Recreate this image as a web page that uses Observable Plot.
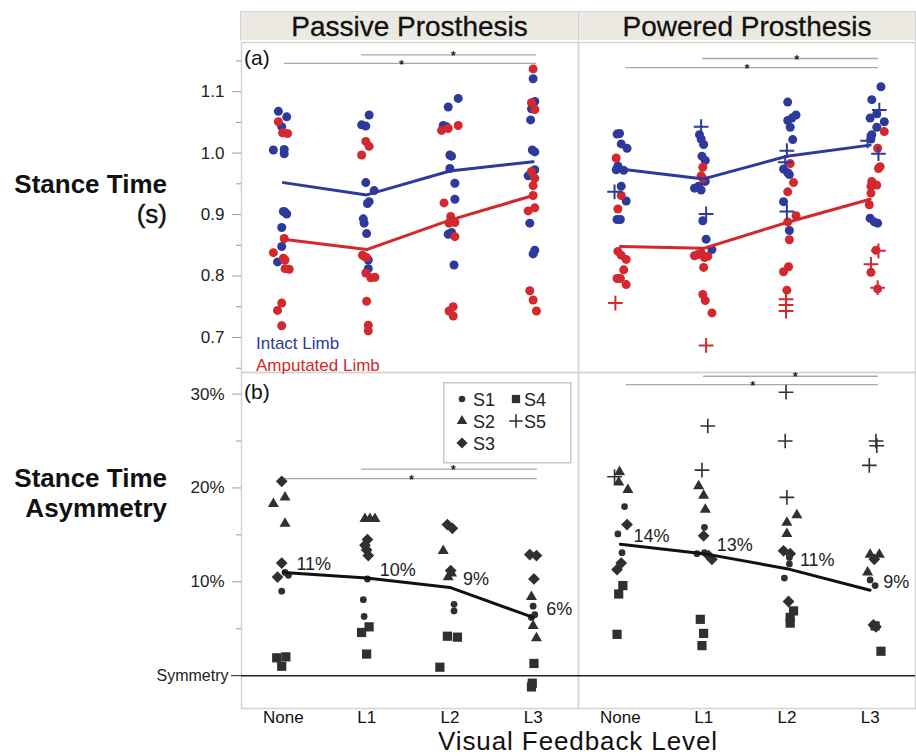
<!DOCTYPE html>
<html><head><meta charset="utf-8">
<script src="https://cdn.jsdelivr.net/npm/d3@7"></script>
<script src="https://cdn.jsdelivr.net/npm/@observablehq/plot@0.6"></script>
<style>
body{margin:0;background:#fff;}
#chart{position:relative;width:916px;height:756px;font-family:"Liberation Sans",Arial,Helvetica,sans-serif;color:#111;overflow:hidden;background:#fff;}
.abs{position:absolute;line-height:1;white-space:nowrap;}
.hdr{position:absolute;top:0;width:338px;height:29px;line-height:29px;text-align:center;font-size:28px;border-left:1.5px solid #d0d0d0;box-sizing:border-box;-webkit-text-stroke:0.3px #111;}
</style></head><body>
<div id="chart">
  <div id="topPlot" class="abs" style="left:0;top:0;"></div>
  <div id="bottomPlot" class="abs" style="left:0;top:372px;"></div>
  <div class="abs" style="left:240px;top:11px;width:676px;height:29px;background:#ebe9e2;border-top:1px solid #d6d4cc;box-sizing:border-box;">
    <div class="hdr" style="left:0;">Passive Prosthesis</div>
    <div class="hdr" style="left:338px;border-right:1.5px solid #d0d0d0;">Powered Prosthesis</div>
  </div>
  <div class="abs" style="left:0;top:169px;width:167px;text-align:right;font-size:26px;font-weight:bold;line-height:30px;">Stance Time<br><span style="font-weight:normal;-webkit-text-stroke:0.4px #111;">(s)</span></div>
  <div class="abs" style="left:0;top:463px;width:167px;text-align:right;font-size:26px;font-weight:bold;line-height:30px;">Stance Time<br>Asymmetry</div>
  <div class="abs" style="left:244px;top:47px;font-size:21px;color:#111;">(a)</div>
  <div class="abs" style="left:244px;top:381px;font-size:21px;color:#111;">(b)</div>
  <div class="abs" style="left:256px;top:335px;font-size:17px;color:#2d3a9c;">Intact Limb</div>
  <div class="abs" style="left:256px;top:357px;font-size:17px;color:#d2282e;">Amputated Limb</div>
  <div id="legend" class="abs" style="left:443px;top:382px;"></div>
  <div class="abs" style="left:240px;top:728px;width:676px;height:26px;line-height:26px;text-align:center;font-size:26px;letter-spacing:0.9px;color:#111;">Visual Feedback Level</div>
</div>
<script>
// ---------- categories ----------
const levels = ["None", "L1", "L2", "L3"];
const prostheses = ["Passive Prosthesis", "Powered Prosthesis"];
const limbs = ["Intact", "Amputated"];
const subjects = ["S1", "S2", "S3", "S4", "S5"];

// ---------- (a) stance time points: [levelIndex, jitter, seconds] ----------
const passiveIntact = [
  [0,-0.06,1.068],[0,0.04,1.059],[0,-0.02,1.043],[0,-0.12,1.005],[0,0.01,1.006],[0,0.01,0.999],[0,0.0,0.905],[0,0.04,0.901],[0,0.02,0.904],[0,-0.02,0.879],[0,-0.02,0.848],[0,-0.07,0.823],
  [1,0.03,1.062],[1,-0.06,1.046],[1,-0.01,1.044],[1,-0.01,0.952],[1,0.09,0.939],[1,0.03,0.921],[1,0.01,0.918],[1,-0.04,0.893],[1,-0.03,0.886],[1,0.0,0.869],[1,0.02,0.826],[1,0.02,0.812],
  [2,0.10,1.089],[2,-0.02,1.075],[2,-0.08,1.045],[2,-0.04,1.043],[2,0.0,0.997],[2,0.02,0.995],[2,0.0,0.975],[2,0.06,0.951],[2,0.06,0.925],[2,-0.02,0.868],[2,0.02,0.871],[2,0.05,0.818],
  [3,0.0,1.121],[3,0.02,1.084],[3,-0.02,1.072],[3,-0.03,1.054],[3,-0.01,1.005],[3,0.02,1.002],[3,0.02,0.973],[3,-0.06,0.963],[3,-0.04,0.886],[3,0.02,0.842],[3,0.0,0.836]
];
const passiveAmputated = [
  [0,-0.06,1.051],[0,-0.01,1.033],[0,0.05,1.032],[0,0.01,0.861],[0,-0.12,0.838],[0,0.0,0.829],[0,0.02,0.826],[0,0.02,0.812],[0,0.07,0.811],[0,-0.02,0.756],[0,-0.07,0.744],[0,-0.02,0.719],
  [1,-0.01,1.019],[1,0.03,1.011],[1,-0.06,0.997],[1,-0.05,0.834],[1,0.0,0.830],[1,-0.03,0.832],[1,-0.01,0.805],[1,0.05,0.797],[1,0.10,0.798],[1,0.0,0.759],[1,0.02,0.720],[1,0.02,0.711],
  [2,-0.10,1.037],[2,-0.02,1.040],[2,0.10,1.045],[2,-0.07,0.919],[2,0.01,0.897],[2,0.0,0.888],[2,0.06,0.887],[2,-0.01,0.886],[2,0.06,0.864],[2,0.04,0.750],[2,-0.01,0.743],[2,0.04,0.735],
  [3,0.0,1.137],[3,-0.02,1.082],[3,0.02,1.071],[3,-0.02,0.970],[3,0.02,0.959],[3,0.0,0.947],[3,0.0,0.931],[3,-0.06,0.906],[3,0.02,0.911],[3,-0.04,0.776],[3,0.0,0.761],[3,0.04,0.743]
];
const poweredIntact = [
  [0,-0.04,1.031],[0,-0.01,1.032],[0,0.01,1.015],[0,0.08,1.008],[0,-0.03,0.979],[0,-0.05,0.973],[0,0.04,0.972],[0,0.01,0.946],[0,0.07,0.922],[0,-0.04,0.892],[0,0.0,0.892],
  [1,-0.05,1.030],[1,-0.03,1.023],[1,0.0,1.014],[1,-0.02,0.995],[1,0.02,0.988],[1,0.02,0.954],[1,-0.11,0.943],[1,-0.06,0.946],[1,-0.03,0.940],[1,-0.01,0.890],[1,0.03,0.860],[1,0.10,0.843],
  [2,0.01,1.083],[2,0.11,1.062],[2,0.06,1.057],[2,0.01,1.053],[2,0.04,1.042],[2,0.07,1.022],[2,-0.04,0.974],[2,0.01,0.968],[2,0.03,0.965],[2,-0.04,0.921],[2,0.03,0.874],
  [3,0.13,1.108],[3,0.02,1.087],[3,0.08,1.064],[3,0.0,1.057],[3,0.17,1.051],[3,0.08,1.042],[3,0.02,1.030],[3,0.01,1.023],[3,0.0,0.894],[3,0.05,0.888],[3,0.09,0.886]
];
const poweredAmputated = [
  [0,-0.05,0.992],[0,0.01,0.931],[0,-0.03,0.909],[0,-0.03,0.840],[0,0.01,0.834],[0,0.07,0.827],[0,0.04,0.810],[0,-0.04,0.796],[0,0.0,0.796],[0,0.07,0.786],
  [1,-0.01,0.977],[1,-0.03,0.963],[1,-0.01,0.959],[1,-0.11,0.833],[1,-0.07,0.835],[1,-0.03,0.838],[1,0.01,0.830],[1,0.05,0.832],[1,0.0,0.814],[1,-0.01,0.770],[1,0.02,0.760],[1,0.10,0.740],
  [2,0.04,0.983],[2,0.08,0.952],[2,0.01,0.937],[2,0.11,0.898],[2,0.01,0.888],[2,0.03,0.859],[2,0.02,0.815],[2,-0.04,0.807],[2,0.0,0.777],
  [3,0.17,1.035],[3,0.09,1.008],[3,0.12,0.978],[3,0.10,0.975],[3,0.02,0.954],[3,0.08,0.948],[3,0.01,0.946],[3,0.01,0.935],[3,-0.01,0.916],[3,0.07,0.842],[3,0.01,0.806],[3,0.09,0.779]
];
const poweredIntactS5 = [
  [0,-0.07,0.937],[1,-0.03,1.043],[1,0.03,0.901],[2,0.0,1.004],[2,-0.02,0.985],[2,0.0,0.905],[3,0.11,1.070],[3,-0.03,1.020],[3,0.10,0.999]
];
const poweredAmputatedS5 = [
  [0,-0.06,0.756],[1,0.03,0.687],[2,-0.01,0.762],[2,-0.01,0.753],[2,-0.01,0.743],[3,0.10,0.841],[3,0.01,0.819],[3,0.09,0.781]
];

// mean stance time per level
const meanIntactPassive = [0.952, 0.932, 0.971, 0.986];
const meanAmputatedPassive = [0.860, 0.843, 0.891, 0.931];
const meanIntactPowered = [0.974, 0.958, 0.995, 1.013];
const meanAmputatedPowered = [0.848, 0.845, 0.887, 0.925];

// ---------- (b) stance time asymmetry points (%): [levelIndex, jitter, percent] ----------
const passiveS1 = [[0,0.06,10.7],[0,0.02,11.0],[0,-0.02,9.0],[1,0.01,10.3],[1,-0.04,8.1],[1,-0.03,6.3],[2,0.05,7.6],[2,0.05,6.9],[3,0.0,7.4],[3,0.02,6.5],[3,-0.02,6.2]];
const passiveS2 = [[0,-0.12,18.3],[0,0.02,19.0],[0,0.02,16.2],[1,-0.02,16.7],[1,0.10,16.7],[1,0.04,16.7],[2,-0.08,13.3],[2,-0.02,10.5],[2,0.02,10.9],[3,-0.02,8.4],[3,0.0,5.3],[3,0.04,4.0]];
const passiveS3 = [[0,-0.02,20.7],[0,-0.02,12.0],[0,-0.07,10.5],[1,0.01,14.5],[1,-0.02,13.9],[1,0.0,13.4],[1,0.02,12.8],[2,-0.03,16.1],[2,0.03,15.7],[2,0.01,11.2],[3,-0.04,12.9],[3,0.04,12.8],[3,0.01,10.3]];
const passiveS4 = [[0,-0.08,1.9],[0,0.03,2.0],[0,-0.02,1.0],[1,0.03,5.2],[1,-0.06,4.6],[1,0.0,2.3],[2,-0.03,4.2],[2,0.09,4.1],[2,-0.12,0.9],[3,0.01,1.3],[3,-0.01,-0.8],[3,-0.02,-1.2]];
const poweredS1 = [[0,0.05,18.0],[0,-0.03,15.1],[0,0.02,13.1],[1,0.01,15.8],[1,-0.08,13.0],[1,0.01,13.1],[2,0.03,12.6],[2,0.03,11.9],[2,-0.03,10.4],[3,0.0,10.2],[3,0.06,9.6]];
const poweredS2 = [[0,-0.01,21.7],[0,-0.02,20.6],[0,0.09,19.8],[1,-0.06,20.2],[1,0.0,19.2],[1,0.02,17.7],[2,0.12,17.1],[2,0.0,16.3],[2,0.0,15.1],[3,0.0,12.9],[3,0.11,12.9],[3,-0.03,11.0]];
const poweredS3 = [[0,0.08,16.1],[0,0.01,12.0],[0,-0.04,11.3],[1,0.0,14.9],[1,0.06,12.8],[1,0.10,12.4],[2,-0.04,13.3],[2,0.04,13.0],[2,0.02,7.9],[3,0.05,12.4],[3,0.04,5.4],[3,0.07,5.2]];
const poweredS4 = [[0,0.03,9.6],[0,-0.02,8.7],[0,-0.04,4.4],[1,-0.04,6.0],[1,0.0,4.5],[1,-0.02,3.2],[2,0.08,6.9],[2,0.04,6.2],[2,0.04,5.6],[3,0.13,2.6],[3,0.06,5.3]];
const poweredS5 = [[0,-0.07,21.2],[1,0.05,26.6],[1,-0.02,21.9],[2,-0.01,30.2],[2,-0.02,25.0],[2,0.0,19.0],[3,0.07,25.0],[3,0.08,24.5],[3,-0.01,22.4]];

// mean asymmetry per level (%)
const meanAsymPassive = [11.0, 10.4, 9.4, 6.2];
const meanAsymPowered = [14.0, 13.0, 11.4, 9.1];

// significance brackets: [prosthesis, fromLevel, toLevel, y, starAt]
const stanceBrackets = [
  ["Passive Prosthesis", 0.94, 3.04, 1.160, 2.04],
  ["Passive Prosthesis", 0.01, 3.04, 1.146, 1.42],
  ["Powered Prosthesis", 0.99, 3.10, 1.154, 2.12],
  ["Powered Prosthesis", 0.07, 3.10, 1.139, 1.52]
];
const asymBrackets = [
  ["Passive Prosthesis", 0.94, 3.05, 22.0, 2.04],
  ["Passive Prosthesis", 0.01, 3.05, 21.0, 1.54],
  ["Powered Prosthesis", 1.00, 3.10, 31.9, 2.10],
  ["Powered Prosthesis", 0.07, 3.10, 31.0, 1.59]
];

// axis ticks
const stanceTicks = [0.7, 0.8, 0.9, 1.0, 1.1];
const stanceMinorTicks = [0.65, 0.75, 0.85, 0.95, 1.05, 1.15];
const asymTicks = [10, 20, 30];
const asymMinorTicks = [5, 15, 25];

// ---------- build tables ----------
const blue = "#2d3a9c", red = "#d2282e", ink = "#303030";
const font = '"Liberation Sans", Arial, Helvetica, sans-serif';

const stance = [];
function addStance(arr, prosthesis, limb, subject) {
  for (const [level, jitter, value] of arr) stance.push({prosthesis, limb, subject, level, jitter, value});
}
addStance(passiveIntact, prostheses[0], "Intact", "S1-4");
addStance(passiveAmputated, prostheses[0], "Amputated", "S1-4");
addStance(poweredIntact, prostheses[1], "Intact", "S1-4");
addStance(poweredAmputated, prostheses[1], "Amputated", "S1-4");
addStance(poweredIntactS5, prostheses[1], "Intact", "S5");
addStance(poweredAmputatedS5, prostheses[1], "Amputated", "S5");

const meanStance = [];
[[meanIntactPassive, prostheses[0], "Intact"], [meanAmputatedPassive, prostheses[0], "Amputated"],
 [meanIntactPowered, prostheses[1], "Intact"], [meanAmputatedPowered, prostheses[1], "Amputated"]]
  .forEach(([arr, prosthesis, limb]) => arr.forEach((value, level) => meanStance.push({prosthesis, limb, level, value})));

const asym = [];
function addAsym(arr, prosthesis, subject) {
  for (const [level, jitter, value] of arr) asym.push({prosthesis, subject, level, jitter, value});
}
addAsym(passiveS1, prostheses[0], "S1"); addAsym(passiveS2, prostheses[0], "S2");
addAsym(passiveS3, prostheses[0], "S3"); addAsym(passiveS4, prostheses[0], "S4");
addAsym(poweredS1, prostheses[1], "S1"); addAsym(poweredS2, prostheses[1], "S2");
addAsym(poweredS3, prostheses[1], "S3"); addAsym(poweredS4, prostheses[1], "S4");
addAsym(poweredS5, prostheses[1], "S5");

const meanAsym = [];
[[meanAsymPassive, prostheses[0]], [meanAsymPowered, prostheses[1]]]
  .forEach(([arr, prosthesis]) => arr.forEach((value, level) => meanAsym.push({prosthesis, level, value})));

const xDomain = [-0.503, 3.545];
const jx = d => d.level + d.jitter;
const starStyle = {text: () => "*", fontSize: 13, dy: 1, fill: "#000", stroke: "#000", strokeWidth: 0.2};

// ---------- (a) top row ----------
const topPlot = Plot.plot({
  width: 916, height: 372,
  marginLeft: 240, marginRight: 1, marginTop: 42, marginBottom: 0,
  style: {fontFamily: font, fontSize: "17px", background: "transparent", color: "#222", overflow: "visible"},
  x: {domain: xDomain, axis: null},
  y: {domain: [0.643, 1.18]},
  fx: {domain: prostheses, padding: 0, axis: null},
  color: {domain: limbs, range: [blue, red]},
  marks: [
    Plot.frame({stroke: "#d4d4d4", strokeWidth: 1.5}),
    Plot.axisY({ticks: stanceMinorTicks, tickSize: 5, stroke: "#9a9a9a", fill: "none", label: null}),
    Plot.axisY({ticks: stanceTicks, tickSize: 9, tickPadding: 8, tickFormat: d3.format(".1f"), stroke: "#9a9a9a", fill: "#222", fontSize: 17, label: null}),
    Plot.ruleY(stanceBrackets, {fx: d => d[0], x1: d => d[1], x2: d => d[2], y: d => d[3], stroke: "#a9a9a9", strokeWidth: 1.3}),
    Plot.dot(stance.filter(d => d.limb === "Intact" && d.subject !== "S5"), {fx: "prosthesis", x: jx, y: "value", fill: "limb", r: 4.5}),
    Plot.dot(stance.filter(d => d.limb === "Amputated" && d.subject !== "S5"), {fx: "prosthesis", x: jx, y: "value", fill: "limb", r: 4.5}),
    Plot.dot(stance.filter(d => d.subject === "S5"), {fx: "prosthesis", x: jx, y: "value", stroke: "limb", symbol: "plus", r: 4.8, strokeWidth: 2}),
    Plot.line(meanStance, {fx: "prosthesis", x: "level", y: "value", stroke: "limb", strokeWidth: 3}),
    Plot.text(stanceBrackets, {fx: d => d[0], x: d => d[4], y: d => d[3], ...starStyle})
  ]
});
document.getElementById("topPlot").appendChild(topPlot);

// ---------- (b) bottom row ----------
const subjectStyle = {
  S1: {symbol: "circle", r: 3.4},
  S2: {symbol: "triangle", r: 4.1},
  S3: {symbol: "diamond2", r: 5.3},
  S4: {symbol: "square", r: 5.2}
};
const bottomPlot = Plot.plot({
  width: 916, height: 384,
  marginLeft: 240, marginRight: 1, marginTop: 0, marginBottom: 48,
  style: {fontFamily: font, fontSize: "17px", background: "transparent", color: "#222", overflow: "visible"},
  x: {domain: xDomain},
  y: {domain: [-3.5, 32.3]},
  fx: {domain: prostheses, padding: 0, axis: null},
  marks: [
    Plot.frame({stroke: "#d4d4d4", strokeWidth: 1.5}),
    Plot.axisY({ticks: asymMinorTicks, tickSize: 5, stroke: "#9a9a9a", fill: "none", label: null}),
    Plot.axisY({ticks: asymTicks, tickSize: 9, tickPadding: 8, tickFormat: d => d + "%", stroke: "#9a9a9a", fill: "#222", fontSize: 17, label: null}),
    Plot.axisY({ticks: [0], tickSize: 10, tickPadding: 3, tickFormat: () => "Symmetry", stroke: "#222", fill: "#222", fontSize: 16, label: null}),
    Plot.axisX({ticks: [0, 1, 2, 3], tickFormat: i => levels[i], tickSize: 0, tickPadding: 2, fontSize: 17, fill: "#111", label: null}),
    Plot.ruleY([0], {stroke: "#222", strokeWidth: 1.5}),
    Plot.ruleY(asymBrackets, {fx: d => d[0], x1: d => d[1], x2: d => d[2], y: d => d[3], stroke: "#a9a9a9", strokeWidth: 1.3}),
    ...["S4", "S1", "S2", "S3"].map(s => Plot.dot(asym.filter(d => d.subject === s), {
      fx: "prosthesis", x: jx, y: "value", fill: ink, symbol: subjectStyle[s].symbol, r: subjectStyle[s].r
    })),
    Plot.dot(asym.filter(d => d.subject === "S5"), {fx: "prosthesis", x: jx, y: "value", stroke: ink, symbol: "plus", r: 4.8, strokeWidth: 1.6}),
    Plot.line(meanAsym, {fx: "prosthesis", x: "level", y: "value", stroke: "#111", strokeWidth: 3}),
    Plot.text(meanAsym, {fx: "prosthesis", x: "level", y: "value", text: d => Math.round(d.value) + "%", dx: 13, dy: -8, textAnchor: "start", fontSize: 18, fill: "#222"}),
    Plot.text(asymBrackets, {fx: d => d[0], x: d => d[4], y: d => d[3], ...starStyle})
  ]
});
document.getElementById("bottomPlot").appendChild(bottomPlot);

// ---------- legend (subjects) ----------
const legendItems = [
  {s: "S1", sym: d3.symbolCircle, size: 34, col: 0, row: 0, fill: true},
  {s: "S4", sym: d3.symbolSquare, size: 68, col: 1, row: 0, fill: true},
  {s: "S2", sym: d3.symbolTriangle, size: 48, col: 0, row: 1, fill: true},
  {s: "S5", sym: d3.symbolPlus, size: 62, col: 1, row: 1, fill: false},
  {s: "S3", sym: d3.symbolDiamond2, size: 80, col: 0, row: 2, fill: true}
];
const lg = d3.create("svg").attr("width", 129).attr("height", 82).style("display", "block");
lg.append("rect").attr("x", 0.75).attr("y", 0.75).attr("width", 127).attr("height", 80)
  .attr("fill", "#fff").attr("stroke", "#c8c8c8").attr("stroke-width", 1.5);
const it = lg.selectAll("g").data(legendItems).join("g")
  .attr("transform", d => `translate(${d.col ? 73 : 19},${17 + d.row * 22})`);
it.append("path").attr("d", d => d3.symbol(d.sym, d.size)())
  .attr("fill", d => d.fill ? ink : "none").attr("stroke", d => d.fill ? "none" : ink).attr("stroke-width", 1.6);
it.append("text").attr("x", d => d.col ? 8 : 11).attr("y", 6.5).text(d => d.s)
  .attr("font-family", font).attr("font-size", 18).attr("fill", "#222");
document.getElementById("legend").appendChild(lg.node());
</script>
</body></html>
